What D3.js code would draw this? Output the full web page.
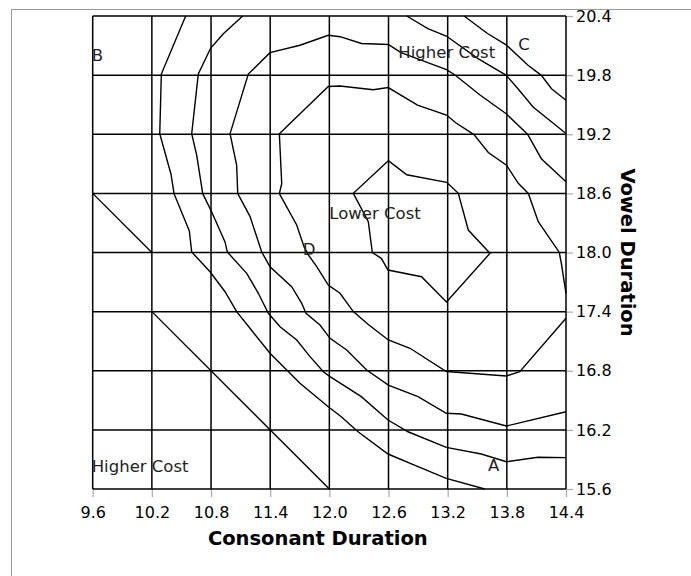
<!DOCTYPE html>
<html>
<head>
<meta charset="utf-8">
<script src="https://cdn.jsdelivr.net/npm/d3@7"></script>
<style>
  html, body { margin: 0; padding: 0; background: #fff; }
  svg { display: block; font-family: "DejaVu Sans", Verdana, sans-serif; }
</style>
</head>
<body>
<svg id="chart" width="691" height="576"></svg>
<script>
// ---- Data ----
const xTicks = [9.6, 10.2, 10.8, 11.4, 12.0, 12.6, 13.2, 13.8, 14.4];
const yTicks = [15.6, 16.2, 16.8, 17.4, 18.0, 18.6, 19.2, 19.8, 20.4];
const xTitle = "Consonant Duration";
const yTitle = "Vowel Duration";

// contour lines: [consonant, vowel]
const contourA = [[9.6,18.6],[10.2,18.0]];
const contourB = [[10.2,17.4],[12.0,15.6]];
const contour1 = [[10.543,20.4],[10.296,19.811],[10.280,19.206],[10.394,18.794],[10.425,18.597],[10.580,18.218],[10.604,18.005],[10.790,17.805],[10.942,17.602],[11.060,17.4],[11.195,17.231],[11.398,16.977],[11.568,16.808],[11.702,16.673],[11.989,16.435],[12.121,16.334],[12.291,16.181],[12.595,15.955],[12.899,15.826],[13.186,15.708],[13.576,15.6]];
const contour2 = [[11.121,20.4],[10.925,20.22],[10.797,20.075],[10.671,19.811],[10.604,19.206],[10.655,18.986],[10.716,18.597],[10.807,18.411],[10.942,18.107],[10.965,18.005],[11.162,17.789],[11.280,17.586],[11.381,17.383],[11.500,17.247],[11.669,17.112],[11.804,16.943],[11.939,16.79],[12.007,16.74],[12.324,16.537],[12.595,16.3],[12.798,16.181],[13.186,16.023],[13.541,15.955],[13.795,15.877],[14.116,15.922],[14.4,15.918]];
const contour3 = [[14.4,18.718],[14.150,18.952],[14.010,19.2],[13.797,19.405],[13.528,19.598],[13.274,19.801],[13.188,19.855],[12.727,20.028],[12.598,20.111],[12.326,20.121],[12.108,20.19],[11.989,20.204],[11.702,20.103],[11.398,20.028],[11.178,19.811],[10.993,19.206],[11.060,18.885],[11.071,18.597],[11.195,18.367],[11.314,18.005],[11.398,17.856],[11.618,17.653],[11.720,17.484],[11.763,17.383],[11.905,17.264],[12.007,17.129],[12.176,17.011],[12.379,16.808],[12.598,16.655],[12.899,16.537],[13.186,16.368],[13.338,16.361],[13.795,16.239],[14.4,16.384]];
const contour4 = [[14.4,17.586],[14.353,17.89],[14.336,17.975],[14.334,17.998],[14.119,18.312],[14.018,18.599],[13.916,18.702],[13.797,18.886],[13.612,19.015],[13.467,19.197],[13.285,19.314],[13.188,19.395],[12.894,19.495],[12.597,19.674],[12.445,19.651],[12.108,19.690],[11.989,19.685],[11.493,19.206],[11.517,18.698],[11.493,18.597],[11.669,18.279],[11.743,18.059],[11.787,17.975],[11.872,17.856],[11.989,17.67],[12.108,17.586],[12.243,17.4],[12.392,17.272],[12.598,17.112],[12.818,17.028],[13.186,16.792],[13.795,16.747],[13.931,16.79],[14.4,17.332]];
const contour5 = [[12.598,18.932],[12.785,18.789],[13.190,18.712],[13.308,18.601],[13.409,18.228],[13.629,17.992],[13.188,17.498],[12.935,17.754],[12.595,17.822],[12.527,17.941],[12.436,18.0],[12.395,18.313],[12.243,18.601],[12.598,18.932]];
const contour6 = [[12.785,20.4],[12.999,20.271],[13.186,20.197],[13.508,19.967],[13.795,19.798],[13.913,19.662],[14.066,19.477],[14.4,19.208]];
const contour7 = [[13.366,20.4],[13.604,20.222],[13.797,20.104],[14.015,19.9],[14.150,19.798],[14.253,19.662],[14.4,19.545]];
const contours = [contourA, contourB, contour1, contour2, contour3, contour4, contour5, contour6, contour7];

// annotation labels: [text, consonant, vowel]
const labelTexts = ["B", "C", "Higher Cost", "Lower Cost", "D", "A", "Higher Cost"];
const labelX = [9.59, 13.915, 12.70, 12.0, 11.73, 13.61, 9.59];
const labelY = [19.943, 20.058, 19.977, 18.34, 17.975, 15.783, 15.776];

// ---- Layout ----
const svg = d3.select("#chart");
const x = d3.scaleLinear().domain([9.6, 14.4]).range([92.7, 566]);
const y = d3.scaleLinear().domain([15.6, 20.4]).range([489, 16]);

// page border
svg.append("rect")
  .attr("x", 11.5).attr("y", 9.5).attr("width", 800).attr("height", 800)
  .attr("fill", "none").attr("stroke", "#999").attr("stroke-width", 1);

// axes with ticks
const xAxis = d3.axisBottom(x).tickValues(xTicks).tickFormat(d3.format(".1f")).tickSize(8).tickPadding(10);
const gx = svg.append("g").attr("transform", `translate(0,${y(15.6)})`).call(xAxis);
gx.select(".domain").remove();
gx.selectAll(".tick line").attr("stroke", "#aaa").attr("stroke-width", 1.2);
gx.selectAll(".tick text").attr("fill", "#000").style("font-size", "16px").style("font-family", "DejaVu Sans");

const yAxis = d3.axisRight(y).tickValues(yTicks).tickFormat(d3.format(".1f")).tickSize(7).tickPadding(3);
const gy = svg.append("g").attr("transform", `translate(${x(14.4)},0)`).call(yAxis);
gy.select(".domain").remove();
gy.selectAll(".tick line").attr("stroke", "#aaa").attr("stroke-width", 1.2);
gy.selectAll(".tick text").attr("fill", "#000").style("font-size", "16px").style("font-family", "DejaVu Sans");

// grid
const grid = svg.append("g").attr("stroke", "#000").attr("stroke-width", 1.5);
grid.selectAll("line.v").data(xTicks).join("line").attr("class", "v")
  .attr("x1", d => x(d)).attr("x2", d => x(d)).attr("y1", y(20.4)).attr("y2", y(15.6));
grid.selectAll("line.h").data(yTicks).join("line").attr("class", "h")
  .attr("x1", x(9.6)).attr("x2", x(14.4)).attr("y1", d => y(d)).attr("y2", d => y(d));

// contours
const line = d3.line().x(d => x(d[0])).y(d => y(d[1]));
svg.append("g").selectAll("path").data(contours).join("path")
  .attr("d", line).attr("fill", "none").attr("stroke", "#000")
  .attr("stroke-width", 1.4).attr("stroke-linejoin", "miter");

// labels
svg.append("g").selectAll("text").data(labelTexts).join("text")
  .attr("x", (d, i) => x(labelX[i])).attr("y", (d, i) => y(labelY[i]))
  .style("font-size", "16.5px").attr("fill", "#222").text(d => d);

// titles
svg.append("text").attr("x", 317.8).attr("y", 545).attr("text-anchor", "middle")
  .style("font-size", "19.5px").style("font-weight", "bold").text(xTitle);
svg.append("text").attr("transform", `translate(621,${(y(15.6)+y(20.4))/2}) rotate(90)`)
  .attr("text-anchor", "middle")
  .style("font-size", "19.5px").style("font-weight", "bold").text(yTitle);
</script>
</body>
</html>
